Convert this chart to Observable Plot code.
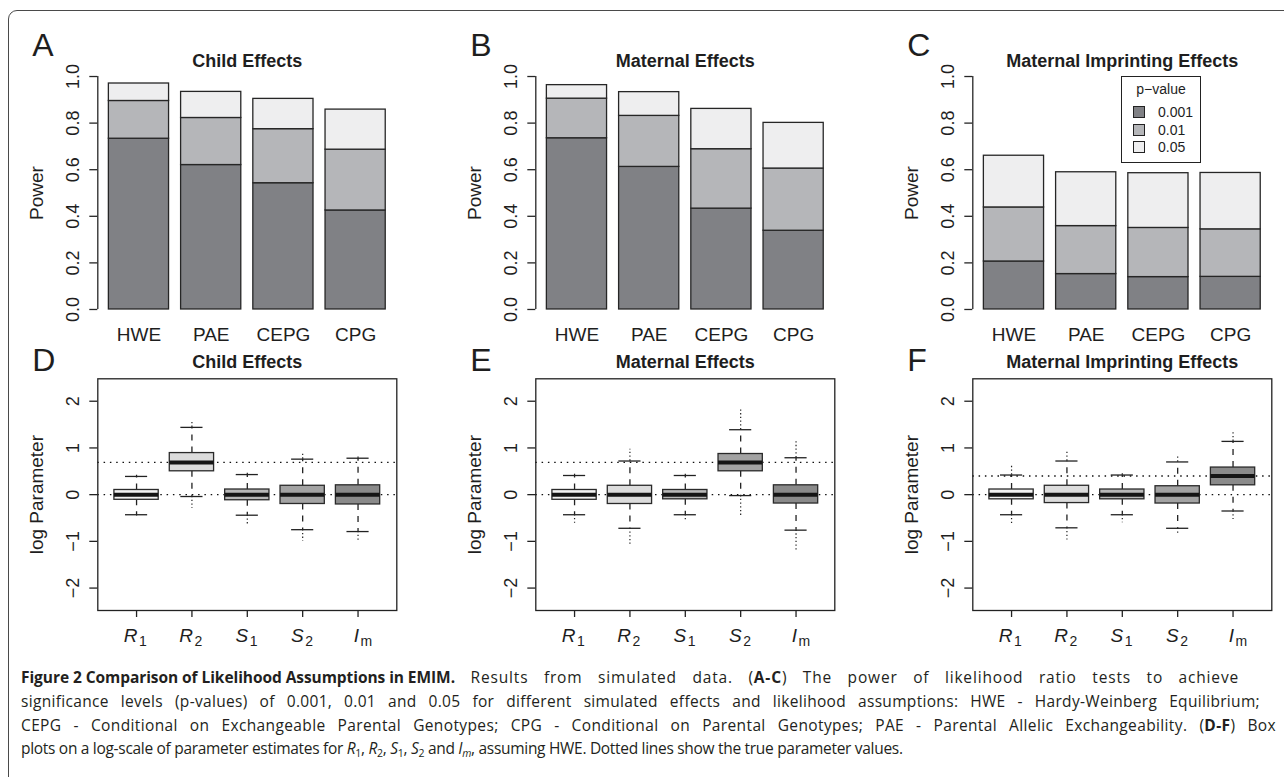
<!DOCTYPE html>
<html>
<head>
<meta charset="utf-8">
<script src="https://cdn.jsdelivr.net/npm/d3@7"></script>
<script src="https://cdn.jsdelivr.net/npm/@observablehq/plot@0.6"></script>
<style>
  html, body { margin: 0; padding: 0; background: #fff; }
  #page { position: relative; width: 1284px; height: 777px; overflow: hidden; background: #fff; }
  #frame { position: absolute; left: 8px; top: 10px; width: 1400px; height: 900px;
           border: 1.4px solid #4a4a4a; border-radius: 9px; box-sizing: border-box; }
  .panel { position: absolute; }
  .panel svg { overflow: visible; }
  #legend { position: absolute; left: 1121px; top: 76px; width: 80px; height: 87px;
            border: 1.3px solid #222; box-sizing: border-box; background: #fff;
            font-family: "Liberation Sans", Arial, sans-serif; font-size: 14px; color: #1e1e1e; }
  #legend .lt { position: absolute; left: 0; width: 100%; top: 4px; text-align: center; }
  #legend .row { position: absolute; left: 11px; height: 14px; line-height: 14px; }
  #legend .sw { display: inline-block; width: 10px; height: 10px; border: 1px solid #222;
                vertical-align: -1px; margin-right: 13px; }
  .cap { position: absolute; left: 21px; top: 0; white-space: nowrap; line-height: 1;
         font-family: "Open Sans", "Noto Sans", sans-serif; font-size: 15.5px; color: #231f20; }
  .cap b.head { font-weight: 700; display: inline-block; }
  .cap sub { font-size: 10.5px; vertical-align: -3px; line-height: 0; }
</style>
</head>
<body>
<div id="page">
  <div id="frame"></div>
</div>
<script>
// ---------------- data ----------------
const assumptions = ["HWE", "PAE", "CEPG", "CPG"];
const pLevels = ["0.001", "0.01", "0.05"];
const powerTicks = [0, 0.2, 0.4, 0.6, 0.8, 1.0];
const topTitles = ["Child Effects", "Maternal Effects", "Maternal Imprinting Effects"];
const topLetters = ["A", "B", "C"];
const bottomLetters = ["D", "E", "F"];

// power (cumulative) reached at each significance level
const childP001 = [0.733, 0.620, 0.542, 0.425];
const childP01  = [0.895, 0.822, 0.774, 0.686];
const childP05  = [0.970, 0.934, 0.904, 0.858];
const maternalP001 = [0.735, 0.612, 0.433, 0.338];
const maternalP01  = [0.905, 0.831, 0.688, 0.605];
const maternalP05  = [0.963, 0.933, 0.861, 0.801];
const imprintP001 = [0.206, 0.152, 0.139, 0.140];
const imprintP01  = [0.438, 0.358, 0.350, 0.344];
const imprintP05  = [0.660, 0.589, 0.585, 0.586];

// box plots of log parameter estimates
const params = ["R1", "R2", "S1", "S2", "Im"];
const paramMain = ["R", "R", "S", "S", "I"];
const paramSub = ["1", "2", "1", "2", "m"];
const logTicks = [-2, -1, 0, 1, 2];

const childLo  = [-0.50, -0.29, -0.64, -1.00, -1.00];
const childWlo = [-0.43, -0.04, -0.44, -0.75, -0.79];
const childQ1  = [-0.11,  0.50, -0.12, -0.20, -0.21];
const childMed = [ 0.00,  0.69,  0.00,  0.00,  0.00];
const childQ3  = [ 0.10,  0.89,  0.11,  0.19,  0.20];
const childWhi = [ 0.39,  1.44,  0.43,  0.76,  0.78];
const childHi  = [ 0.47,  1.56,  0.46,  0.92,  0.86];
const childTrue = [0, 0.69];

const maternalLo  = [-0.61, -1.06, -0.56, -0.45, -1.21];
const maternalWlo = [-0.43, -0.72, -0.43, -0.02, -0.76];
const maternalQ1  = [-0.11, -0.20, -0.10,  0.50, -0.19];
const maternalMed = [ 0.00,  0.00,  0.00,  0.69,  0.00];
const maternalQ3  = [ 0.10,  0.19,  0.10,  0.87,  0.20];
const maternalWhi = [ 0.41,  0.72,  0.41,  1.39,  0.79];
const maternalHi  = [ 0.46,  0.97,  0.45,  1.82,  1.16];
const maternalTrue = [0, 0.69];

const imprintLo  = [-0.63, -0.97, -0.60, -0.84, -0.53];
const imprintWlo = [-0.43, -0.71, -0.43, -0.72, -0.35];
const imprintQ1  = [-0.10, -0.18, -0.10, -0.19,  0.20];
const imprintMed = [ 0.00,  0.00,  0.00,  0.00,  0.40];
const imprintQ3  = [ 0.11,  0.19,  0.11,  0.18,  0.58];
const imprintWhi = [ 0.42,  0.72,  0.42,  0.70,  1.14];
const imprintHi  = [ 0.64,  0.92,  0.45,  0.86,  1.36];
const imprintTrue = [0, 0.40];

// ---------------- styling ----------------
const FONT = '"Liberation Sans", Arial, Helvetica, sans-serif';
const INK = "#1e1e1e";
const barColors = ["#808185", "#b5b6b9", "#eeeeef"];
const boxColors = ["#f3f3f3", "#dcdcdc", "#b8b8b8", "#a3a3a3", "#8a8a8a"];
const colLeft = [0, 438, 874.7];
const PW = 409;

const page = document.getElementById("page");

function place(svg, left, top) {
  const d = document.createElement("div");
  d.className = "panel";
  d.style.left = left + "px";
  d.style.top = top + "px";
  d.appendChild(svg);
  page.appendChild(d);
}

// R barplot geometry: bar i spans [0.2 + 1.2 i, 1.2 + 1.2 i]
const barX1 = (i) => 0.2 + 1.2 * i;
const barX2 = (i) => 1.2 + 1.2 * i;

function barPanel(letter, title, p001, p01, p05) {
  const rows = assumptions.flatMap((a, i) => [
    {a, i, level: pLevels[0], y1: 0, y2: p001[i]},
    {a, i, level: pLevels[1], y1: p001[i], y2: p01[i]},
    {a, i, level: pLevels[2], y1: p01[i], y2: p05[i]}
  ]);
  const xDom = [0.016, 4.984];
  return Plot.plot({
    width: PW, height: 345,
    marginLeft: 97.3, marginRight: 12.7, marginTop: 66.7, marginBottom: 26.7,
    x: {domain: xDom, axis: null},
    y: {domain: [-0.04, 1.04], axis: null},
    color: {domain: pLevels, range: barColors},
    style: {fontFamily: FONT, color: INK, background: "transparent", overflow: "visible"},
    marks: [
      Plot.rect(rows, {x1: d => barX1(d.i), x2: d => barX2(d.i), y1: "y1", y2: "y2",
        fill: "level", stroke: "#262626", strokeWidth: 1.3}),
      Plot.ruleX([xDom[0]], {x: d => d, y1: 0, y2: 1, stroke: "#262626", strokeWidth: 1.3}),
      Plot.axisY({ticks: powerTicks, tickSize: 8, fill: "none", stroke: "#262626",
        strokeWidth: 1.3, label: null}),
      Plot.text(powerTicks, {y: d => d, text: d => d.toFixed(1), frameAnchor: "left",
        dx: -19, rotate: -90, textAnchor: "middle", lineAnchor: "bottom", fontSize: 18}),
      Plot.text(assumptions, {x: (d, i) => (barX1(i) + barX2(i)) / 2, text: d => d,
        frameAnchor: "bottom", dy: 21.7, lineAnchor: "bottom", textAnchor: "middle", fontSize: 19}),
      Plot.text([title], {text: d => d, frameAnchor: "top", lineAnchor: "bottom", dy: 0,
        fontWeight: "bold", fontSize: 18}),
      Plot.text([letter], {text: d => d, frameAnchor: "top-left", textAnchor: "start",
        lineAnchor: "bottom", dx: -65.5, dy: -10.7, fontSize: 32}),
      Plot.text(["Power"], {text: d => d, frameAnchor: "left", rotate: -90, textAnchor: "middle",
        lineAnchor: "bottom", dx: -54.6, fontSize: 19})
    ]
  });
}

function boxPanel(letter, title, lo, wlo, q1, med, q3, whi, hi, truth) {
  const rows = params.map((p, i) => ({p, x: i + 1, lo: lo[i], wlo: wlo[i], q1: q1[i],
    med: med[i], q3: q3[i], whi: whi[i], hi: hi[i]}));
  const half = 0.4, staple = 0.2;
  const positions = params.map((p, i) => i + 1);
  return Plot.plot({
    width: PW, height: 330,
    marginLeft: 97.3, marginRight: 12.7, marginTop: 38.3, marginBottom: 60,
    x: {domain: [0.3, 5.7], axis: null},
    y: {domain: [-2.48, 2.48], axis: null},
    color: {domain: params, range: boxColors},
    style: {fontFamily: FONT, color: INK, background: "transparent", overflow: "visible"},
    marks: [
      Plot.ruleY(truth, {y: d => d, stroke: "#111", strokeWidth: 1.4, strokeDasharray: "1.5,4.8"}),
      Plot.ruleX(rows, {x: "x", y1: "q3", y2: "whi", stroke: "#222", strokeWidth: 1.3, strokeDasharray: "6,6"}),
      Plot.ruleX(rows, {x: "x", y1: "q1", y2: "wlo", stroke: "#222", strokeWidth: 1.3, strokeDasharray: "6,6"}),
      Plot.ruleX(rows, {x: "x", y1: "whi", y2: "hi", stroke: "#222", strokeWidth: 1.2, strokeDasharray: "1.3,2.4"}),
      Plot.ruleX(rows, {x: "x", y1: "wlo", y2: "lo", stroke: "#222", strokeWidth: 1.2, strokeDasharray: "1.3,2.4"}),
      Plot.ruleY(rows, {y: "whi", x1: d => d.x - staple, x2: d => d.x + staple, stroke: "#222", strokeWidth: 1.3}),
      Plot.ruleY(rows, {y: "wlo", x1: d => d.x - staple, x2: d => d.x + staple, stroke: "#222", strokeWidth: 1.3}),
      Plot.rect(rows, {x1: d => d.x - half, x2: d => d.x + half, y1: "q1", y2: "q3",
        fill: "p", stroke: "#2a2a2a", strokeWidth: 1.3}),
      Plot.ruleY(rows, {y: "med", x1: d => d.x - half, x2: d => d.x + half, stroke: "#151515", strokeWidth: 4}),
      Plot.frame({stroke: "#222", strokeWidth: 1.3}),
      Plot.axisY({ticks: logTicks, tickSize: 8, fill: "none", stroke: "#222", strokeWidth: 1.3, label: null}),
      Plot.axisX({ticks: positions, tickSize: 7, fill: "none", stroke: "#222", strokeWidth: 1.3,
        anchor: "bottom", label: null}),
      Plot.text(logTicks, {y: d => d, text: d => (d < 0 ? "\u2212" + (-d) : String(d)),
        frameAnchor: "left", dx: -19, rotate: -90, textAnchor: "middle", lineAnchor: "bottom", fontSize: 18}),
      Plot.text(paramMain, {x: (d, i) => positions[i], text: d => d, frameAnchor: "bottom",
        dy: 31.7, dx: 1, textAnchor: "end", lineAnchor: "bottom", fontStyle: "italic", fontSize: 19}),
      Plot.text(paramSub, {x: (d, i) => positions[i], text: d => d, frameAnchor: "bottom",
        dy: 35.5, dx: 2.5, textAnchor: "start", lineAnchor: "bottom", fontSize: 14}),
      Plot.text([title], {text: d => d, frameAnchor: "top", lineAnchor: "bottom", dy: -11,
        fontWeight: "bold", fontSize: 18}),
      Plot.text([letter], {text: d => d, frameAnchor: "top-left", textAnchor: "start",
        lineAnchor: "bottom", dx: -65.5, dy: -7.6, fontSize: 32}),
      Plot.text(["log Parameter"], {text: d => d, frameAnchor: "left", rotate: -90, textAnchor: "middle",
        lineAnchor: "bottom", dx: -54.6, fontSize: 19})
    ]
  });
}

place(barPanel(topLetters[0], topTitles[0], childP001, childP01, childP05), colLeft[0], 0);
place(barPanel(topLetters[1], topTitles[1], maternalP001, maternalP01, maternalP05), colLeft[1], 0);
place(barPanel(topLetters[2], topTitles[2], imprintP001, imprintP01, imprintP05), colLeft[2], 0);

place(boxPanel(bottomLetters[0], topTitles[0], childLo, childWlo, childQ1, childMed, childQ3, childWhi, childHi, childTrue), colLeft[0], 340);
place(boxPanel(bottomLetters[1], topTitles[1], maternalLo, maternalWlo, maternalQ1, maternalMed, maternalQ3, maternalWhi, maternalHi, maternalTrue), colLeft[1], 340);
place(boxPanel(bottomLetters[2], topTitles[2], imprintLo, imprintWlo, imprintQ1, imprintMed, imprintQ3, imprintWhi, imprintHi, imprintTrue), colLeft[2], 340);

// legend for panel C
const legend = document.createElement("div");
legend.id = "legend";
legend.innerHTML = '<div class="lt">p\u2212value</div>';
pLevels.forEach((lv, i) => {
  const r = document.createElement("div");
  r.className = "row";
  r.style.top = (28 + i * 17.5) + "px";
  r.innerHTML = `<span class="sw" style="background:${barColors[i]}"></span>${lv}`;
  legend.appendChild(r);
});
page.appendChild(legend);

// caption (justified lines 1-3, last line left aligned)
const capLines = [
  {base: 683, w: 1218, html: '<b class="head">Figure 2 Comparison of Likelihood Assumptions in EMIM.</b> Results from simulated data. (<b>A-C</b>) The power of likelihood ratio tests to achieve'},
  {base: 706.7, w: 1239, html: 'significance levels (p-values) of 0.001, 0.01 and 0.05 for different simulated effects and likelihood assumptions: HWE - Hardy-Weinberg Equilibrium;'},
  {base: 730.5, w: 1255, html: 'CEPG - Conditional on Exchangeable Parental Genotypes; CPG - Conditional on Parental Genotypes; PAE - Parental Allelic Exchangeability. (<b>D-F</b>) Box'},
  {base: 754.2, w: 875, html: 'plots on a log-scale of parameter estimates for <i>R</i><sub>1</sub>, <i>R</i><sub>2</sub>, <i>S</i><sub>1</sub>, <i>S</i><sub>2</sub> and <i>I<sub>m</sub></i>, assuming HWE. Dotted lines show the true parameter values.'}
];
const HEAD_W = 434;
const divs = capLines.map(L => {
  const d = document.createElement("div");
  d.className = "cap";
  d.innerHTML = L.html;
  page.appendChild(d);
  return d;
});
const wOf = el => el.getBoundingClientRect().width;
function countChars(root, re) {
  let n = 0;
  const tw = document.createTreeWalker(root, NodeFilter.SHOW_TEXT);
  while (tw.nextNode()) {
    const t = tw.currentNode;
    if (t.parentElement.closest(".head")) continue;
    n += re ? (t.nodeValue.match(re) || []).length : t.nodeValue.length;
  }
  return n;
}
// common letter-spacing from the (unjustified) last line
const lastDiv = divs[divs.length - 1];
const ls = Math.max(-0.3, Math.min(0.4, (capLines[capLines.length - 1].w - wOf(lastDiv)) / lastDiv.textContent.length));
divs.forEach(d => { d.style.letterSpacing = ls + "px"; });
// condensed bold heading
const head = divs[0].querySelector(".head");
head.style.wordSpacing = "0px";
head.style.letterSpacing = "0px";
head.style.fontStretch = "100%";
const w100 = wOf(head);
head.style.fontStretch = "75%";
const w75 = wOf(head);
if (w100 - w75 > 5) {
  const s = Math.max(62.5, Math.min(100, 75 + 25 * (HEAD_W - w75) / (w100 - w75)));
  head.style.fontStretch = s + "%";
} else {
  head.style.fontStretch = "100%";
}
head.style.letterSpacing = ((HEAD_W - wOf(head)) / head.textContent.length) + "px";
// justify lines: part of the slack in letters, the rest in word gaps
divs.forEach((d, i) => {
  if (i < divs.length - 1) {
    const extra = capLines[i].w - wOf(d);
    const nch = countChars(d);
    const nsp = countChars(d, / /g);
    d.style.letterSpacing = (ls + 0.4 * extra / nch) + "px";
    const extra2 = capLines[i].w - wOf(d);
    d.style.wordSpacing = (extra2 / nsp) + "px";
  }
  const probe = document.createElement("span");
  probe.style.cssText = "display:inline-block;width:0;height:0;vertical-align:baseline;";
  d.insertBefore(probe, d.firstChild);
  const b = probe.getBoundingClientRect().top - page.getBoundingClientRect().top;
  d.style.top = (capLines[i].base - b) + "px";
});
</script>
</body>
</html>
